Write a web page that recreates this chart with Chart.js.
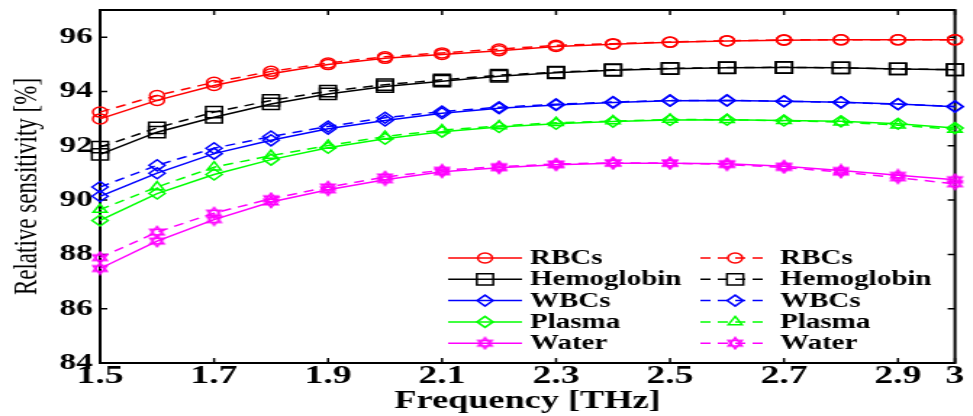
<!DOCTYPE html>
<html>
<head>
<meta charset="utf-8">
<script src="https://cdn.jsdelivr.net/npm/chart.js@4.4.0/dist/chart.umd.min.js"></script>
<style>
html, body { margin: 0; padding: 0; background: #fff; overflow: hidden; }
#wrap { width: 973px; height: 416px; overflow: hidden; }
/* the source figure is stretched sideways, so the whole canvas is too */
#chart { display: block; transform: scaleX(1.45); transform-origin: 0 0; }
</style>
</head>
<body>
<div id="wrap"><canvas id="chart" width="671" height="416"></canvas></div>
<script>
(function() {

    var freq = [1.5, 1.6, 1.7, 1.8, 1.9, 2.0, 2.1, 2.2, 2.3, 2.4, 2.5, 2.6, 2.7, 2.8, 2.9, 3.0];
    var xTickValues = [1.5, 1.7, 1.9, 2.1, 2.3, 2.5, 2.7, 2.9, 3];
    var yTickValues = [84, 86, 88, 90, 92, 94, 96];

    var rbcsSolid = [92.99, 93.67, 94.22, 94.65, 94.99, 95.22, 95.36, 95.50, 95.66, 95.74, 95.81, 95.86, 95.89, 95.90, 95.90, 95.90];
    var rbcsDashed = [93.24, 93.85, 94.34, 94.74, 95.05, 95.28, 95.42, 95.56, 95.70, 95.76, 95.82, 95.87, 95.90, 95.90, 95.90, 95.90];
    var hemoSolid = [91.68, 92.50, 93.05, 93.54, 93.91, 94.18, 94.38, 94.56, 94.69, 94.78, 94.84, 94.87, 94.88, 94.87, 94.83, 94.80];
    var hemoDashed = [91.95, 92.66, 93.24, 93.67, 94.01, 94.25, 94.43, 94.60, 94.71, 94.80, 94.85, 94.88, 94.89, 94.87, 94.83, 94.80];
    var wbcsSolid = [90.14, 90.99, 91.71, 92.20, 92.63, 92.93, 93.20, 93.38, 93.50, 93.59, 93.66, 93.67, 93.64, 93.60, 93.54, 93.44];
    var wbcsDashed = [90.48, 91.28, 91.91, 92.34, 92.71, 93.03, 93.26, 93.42, 93.53, 93.61, 93.67, 93.67, 93.64, 93.60, 93.53, 93.45];
    var plasmaSolid = [89.25, 90.24, 90.94, 91.49, 91.93, 92.26, 92.52, 92.69, 92.81, 92.89, 92.95, 92.96, 92.93, 92.90, 92.81, 92.65];
    var plasmaDashed = [89.65, 90.48, 91.21, 91.64, 92.01, 92.34, 92.58, 92.73, 92.85, 92.91, 92.97, 92.96, 92.92, 92.87, 92.76, 92.60];
    var waterSolid = [87.48, 88.49, 89.28, 89.93, 90.38, 90.75, 91.04, 91.19, 91.30, 91.36, 91.36, 91.34, 91.25, 91.09, 90.91, 90.75];
    var waterDashed = [87.88, 88.82, 89.52, 90.05, 90.48, 90.85, 91.10, 91.23, 91.33, 91.37, 91.36, 91.31, 91.20, 91.03, 90.82, 90.60];

    var serif = "'Liberation Serif', 'Times New Roman', serif";
    var dash = [7, 5];

    // six-pointed star marker for the water curves
    function makeStar(color) {
        var c = document.createElement('canvas');
        c.width = 14; c.height = 14;
        var g = c.getContext('2d');
        g.strokeStyle = color;
        g.lineWidth = 1.4;
        for (var k = 0; k < 2; k++) {
            g.beginPath();
            for (var i = 0; i < 3; i++) {
                var ang = -Math.PI / 2 + k * Math.PI + i * 2 * Math.PI / 3;
                var px = 7 + 5.6 * Math.cos(ang), py = 7 + 5.6 * Math.sin(ang);
                if (i === 0) g.moveTo(px, py); else g.lineTo(px, py);
            }
            g.closePath();
            g.stroke();
        }
        return c;
    }
    var waterStar = makeStar('#ff00ff');

    function series(label, values, color, dashed, style, radius) {
        return {
            label: label,
            data: freq.map(function(f, i) { return {x: f, y: values[i]}; }),
            borderColor: color,
            backgroundColor: 'rgba(0,0,0,0)',
            borderWidth: 1.5,
            borderDash: dashed ? dash : [],
            pointStyle: style,
            pointRadius: radius,
            pointBorderColor: color,
            pointBackgroundColor: 'rgba(0,0,0,0)',
            pointBorderWidth: 1.5,
            tension: 0,
            clip: false
        };
    }

    var datasets = [
        series('RBCs', rbcsSolid, '#ff0000', false, 'circle', 5),
        series('Hemoglobin', hemoSolid, '#000000', false, 'rect', 8),
        series('WBCs', wbcsSolid, '#0000ff', false, 'rectRot', 5.5),
        series('Plasma', plasmaSolid, '#00ff00', false, 'rectRot', 5.5),
        series('Water', waterSolid, '#ff00ff', false, waterStar, 6),
        series('RBCs', rbcsDashed, '#ff0000', true, 'circle', 5),
        series('Hemoglobin', hemoDashed, '#000000', true, 'rect', 8),
        series('WBCs', wbcsDashed, '#0000ff', true, 'rectRot', 5.5),
        series('Plasma', plasmaDashed, '#00ff00', true, 'triangle', 5.5),
        series('Water', waterDashed, '#ff00ff', true, waterStar, 6)
    ];

    // box round the plot with inward tick marks on all four sides
    var framePlugin = {
        id: 'frame',
        beforeDatasetsDraw: function(chart) {
            var ctx = chart.ctx, a = chart.chartArea;
            var xs = chart.scales.x, ys = chart.scales.y;
            ctx.save();
            ctx.strokeStyle = '#000';
            ctx.lineWidth = 1.5;
            ctx.beginPath();
            xTickValues.forEach(function(v) {
                var px = xs.getPixelForValue(v);
                ctx.moveTo(px, a.bottom); ctx.lineTo(px, a.bottom - 5);
                ctx.moveTo(px, a.top); ctx.lineTo(px, a.top + 5);
            });
            yTickValues.forEach(function(v) {
                var py = ys.getPixelForValue(v);
                ctx.moveTo(a.left, py); ctx.lineTo(a.left + 5, py);
                ctx.moveTo(a.right, py); ctx.lineTo(a.right - 5, py);
            });
            ctx.stroke();
            ctx.lineWidth = 2;
            ctx.strokeRect(a.left, a.top, a.right - a.left, a.bottom - a.top);
            ctx.restore();
        }
    };

    // two-column legend inside the plot, solid on the left, dashed on the right
    var legendPlugin = {
        id: 'boxLegend',
        afterDatasetsDraw: function(chart) {
            var ctx = chart.ctx;
            var cols = [{x0: 309, x1: 360, mark: 334.5, text: 365.5}, {x0: 483, x1: 531, mark: 507, text: 538}];
            var rowTop = 258, rowStep = 21.3;
            ctx.save();
            ctx.font = 'bold 20px ' + serif;
            ctx.textBaseline = 'middle';
            ctx.textAlign = 'left';
            chart.data.datasets.forEach(function(ds, i) {
                var col = cols[i < 5 ? 0 : 1];
                var y = rowTop + (i % 5) * rowStep;
                ctx.strokeStyle = ds.borderColor;
                ctx.lineWidth = ds.borderWidth;
                ctx.setLineDash(ds.borderDash);
                ctx.beginPath();
                ctx.moveTo(col.x0, y);
                ctx.lineTo(col.x1, y);
                ctx.stroke();
                ctx.setLineDash([]);
                ctx.lineWidth = ds.pointBorderWidth;
                ctx.fillStyle = 'rgba(0,0,0,0)';
                if (Chart.helpers && Chart.helpers.drawPoint) {
                    Chart.helpers.drawPoint(ctx, {pointStyle: ds.pointStyle, radius: ds.pointRadius, rotation: 0, borderWidth: ds.pointBorderWidth}, col.mark, y);
                }
                ctx.fillStyle = '#000';
                ctx.fillText(ds.label, col.text, y + 1);
            });
            ctx.restore();
        }
    };

    new Chart(document.getElementById('chart'), {
        type: 'line',
        data: { datasets: datasets },
        options: {
            responsive: false,
            animation: false,
            devicePixelRatio: 1,
            events: [],
            layout: { padding: { top: 10, right: 12.4, left: 0, bottom: 0 } },
            plugins: {
                legend: { display: false },
                tooltip: { enabled: false }
            },
            scales: {
                x: {
                    type: 'linear',
                    min: 1.5,
                    max: 3,
                    afterBuildTicks: function(s) {
                        s.ticks = xTickValues.map(function(v) { return {value: v}; });
                    },
                    ticks: {
                        color: '#000',
                        font: { family: serif, size: 26, weight: 'bold', lineHeight: 1 },
                        padding: 0,
                        maxRotation: 0,
                        autoSkip: false,
                        callback: function(v) { return String(v); }
                    },
                    grid: { display: false, drawTicks: false },
                    border: { display: false },
                    title: {
                        display: true,
                        text: 'Frequency [THz]',
                        color: '#000',
                        font: { family: serif, size: 25, weight: 'bold', lineHeight: 1 },
                        padding: { top: 0, bottom: 1.5 }
                    },
                    afterFit: function(s) {
                        s.height = 53;
                        s.paddingLeft = 0;
                        s.paddingRight = 0;
                    }
                },
                y: {
                    type: 'linear',
                    min: 84,
                    max: 97,
                    afterBuildTicks: function(s) {
                        s.ticks = yTickValues.map(function(v) { return {value: v}; });
                    },
                    ticks: {
                        color: '#000',
                        font: { family: serif, size: 23, weight: 'bold', lineHeight: 1 },
                        padding: 5,
                        callback: function(v) { return String(v); }
                    },
                    grid: { display: false, drawTicks: false },
                    border: { display: false },
                    title: {
                        display: true,
                        text: 'Relative sensitivity [%]',
                        color: '#000',
                        font: { family: serif, size: 23, lineHeight: 1.2 },
                        padding: { top: 5, bottom: 0 }
                    },
                    afterFit: function(s) {
                        s.width = 69;
                        s.paddingTop = 0;
                        s.paddingBottom = 0;
                    }
                }
            }
        },
        plugins: [framePlugin, legendPlugin]
    });

})();
</script>
</body>
</html>
